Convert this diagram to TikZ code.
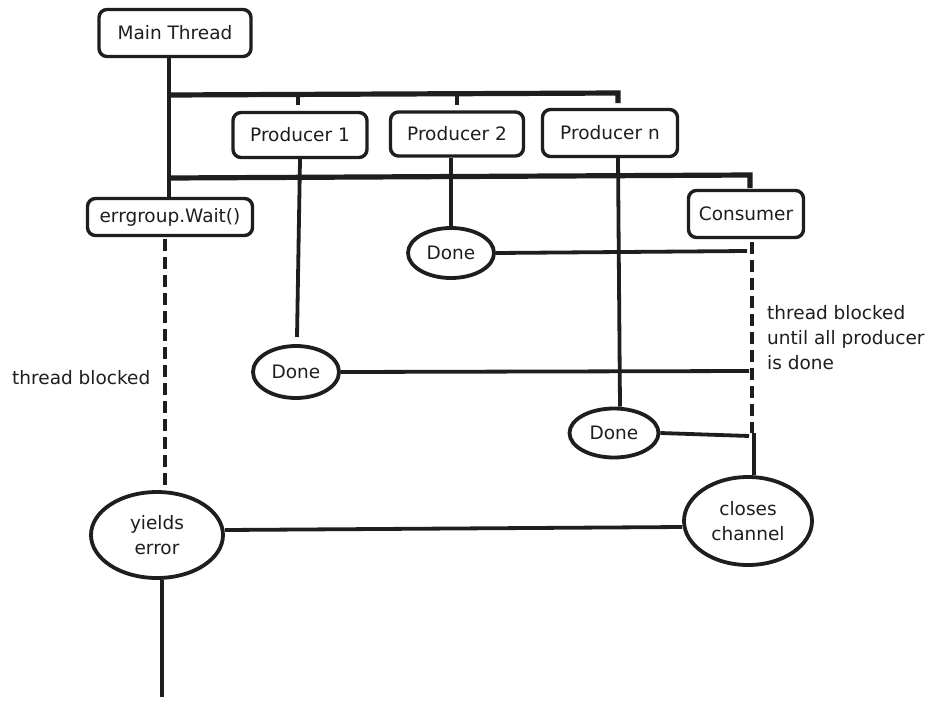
\documentclass[tikz,border=0pt]{standalone}
\usepackage{fontspec}
\setmainfont{DejaVu Sans}
\usetikzlibrary{shapes.geometric,calc}
\definecolor{ink}{HTML}{1E1E1E}
\begin{document}
\begin{tikzpicture}[x=1pt,y=-1pt,
  every node/.style={font=\fontsize{18.5}{25}\selectfont, text=ink},
  box/.style={draw=ink, line width=3.4pt, rounded corners=8pt, fill=white, inner sep=0pt},
  blob/.style={draw=ink, line width=3.8pt, ellipse, fill=white, inner sep=0pt},
  conn/.style={draw=ink, line width=3.8pt},
  bar/.style={draw=ink, line width=5.2pt},
  wait/.style={draw=ink, line width=3.8pt, dash pattern=on 12pt off 6pt},
  note/.style={align=left, anchor=west, inner sep=0pt}]
\useasboundingbox (0,0) rectangle (939,707);
\fill[white] (0,0) rectangle (939,707);

% boxes
\node[box, minimum width=152pt, minimum height=47pt] (main) at (175,33) {Main Thread};
\node[box, minimum width=134pt, minimum height=45pt] (p1) at (300,135) {Producer 1};
\node[box, minimum width=133pt, minimum height=44pt] (p2) at (457,134) {Producer 2};
\node[box, minimum width=135pt, minimum height=47pt] (pn) at (610,133) {Producer n};
\node[box, minimum width=165pt, minimum height=37pt] (wait) at (170,217) {errgroup.Wait()};
\node[box, minimum width=115pt, minimum height=47pt] (cons) at (746,214) {Consumer};

% ellipses
\node[blob, minimum width=86pt, minimum height=50pt] (d2) at (451,253) {Done};
\node[blob, minimum width=86pt, minimum height=52pt] (d1) at (296,372) {Done};
\node[blob, minimum width=89pt, minimum height=49pt] (dn) at (614,433) {Done};
\node[blob, minimum width=132pt, minimum height=86pt, align=center] (err) at (157,535) {yields\\error};
\node[blob, minimum width=128pt, minimum height=88pt, align=center] (close) at (748,521) {closes\\channel};

% notes
\node[note] (tb1) at (12,378) {thread blocked};
\node[note] (tb2) at (767,338) {thread blocked\\until all producer\\is done};

% junction coordinates
\coordinate (j1) at (169,95);
\coordinate (j1e) at (618,93);
\coordinate (j1d) at (618,103);
\coordinate (t1a) at (298,95);
\coordinate (t1b) at (298,105);
\coordinate (t2a) at (457,95);
\coordinate (t2b) at (457,105);
\coordinate (j2) at (169,178);
\coordinate (j2e) at (750,175);
\coordinate (j2d) at (750,188);
\coordinate (p1end) at (297,337);
\coordinate (c1) at (747,251);
\coordinate (c2) at (749,371);
\coordinate (c3) at (749,436);
\coordinate (cw0) at (752,242);
\coordinate (cw1) at (752,433);
\coordinate (cs0) at (754,433);
\coordinate (ww0) at (165,239);
\coordinate (ww1) at (165,489);
\coordinate (eend) at (162,697);

% main thread spine
\draw[conn] (main.south -| j1) -- (wait.north -| j1);
% fork bar
\draw[bar] (j1) -- (j1e) -- (j1d);
\draw[conn] (t1a) -- (t1b);
\draw[conn] (t2a) -- (t2b);
% second bar to consumer
\draw[bar] (j2) -- (j2e) -- (j2d);

% producers to done
\draw[conn] (p1.south -| 300,0) -- (p1end);
\draw[conn] (p2.south -| d2) -- (d2.north);
\draw[conn] (pn.south -| 618,0) -- (dn.north -| 620,0);

% done to consumer line
\draw[conn] (d2.east) -- (c1);
\draw[conn] (d1.east) -- (c2);
\draw[conn] (dn.east) -- (c3);

% consumer waiting
\draw[wait] (cw0) -- (cw1);
\draw[conn] (cs0) -- (close.north -| cs0);

% errgroup waiting
\draw[wait] (ww0) -- (ww1);

% error to close
\draw[conn] ($(err.east)+(0,-5)$) -- ($(close.west)+(0,6)$);
\draw[conn] (err.south -| eend) -- (eend);
\end{tikzpicture}
\end{document}
